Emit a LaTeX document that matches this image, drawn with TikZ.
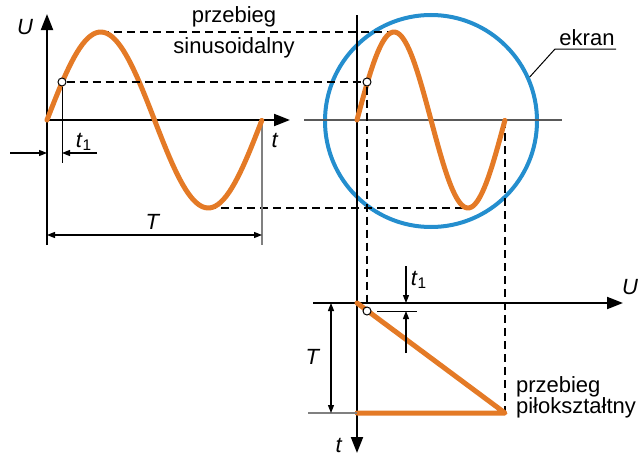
\documentclass[tikz,border=0pt]{standalone}
\usepackage{fontspec}
\setmainfont{Liberation Sans}
\usetikzlibrary{arrows.meta}
\definecolor{waveorange}{RGB}{228,122,38}
\definecolor{screenblue}{RGB}{36,142,206}
\tikzset{
  wave/.style={waveorange, line width=2.5pt, line cap=round, line join=round},
  axis/.style={line width=1pt, -{Triangle[length=8pt,width=6pt]}},
  dimline/.style={line width=0.6pt, {Triangle[length=4pt,width=3pt]}-{Triangle[length=4pt,width=3pt]}},
  tinyarrow/.style={line width=0.6pt, -{Triangle[length=4pt,width=3pt]}},
  guide/.style={line width=0.8pt, dash pattern=on 4pt off 2.5pt},
  thinline/.style={line width=0.5pt},
  graythin/.style={gray, line width=0.6pt},
  dot/.style={circle, draw, fill=white, line width=0.5pt, inner sep=0pt, minimum size=4pt},
  screen/.style={circle, draw=screenblue, line width=2pt, inner sep=0pt, minimum size=106pt}
}
\begin{document}
\begin{tikzpicture}[x=0.5pt,y=-0.5pt,font=\fontsize{11}{13}\selectfont]
\useasboundingbox (0,0) rectangle (638,455);
% named points
\coordinate (o1) at (47,120);
\coordinate (u1top) at (47,14);
\coordinate (u1bot) at (47,245);
\coordinate (t1tip) at (290,120);
\coordinate (peak1) at (100.75,32);
\coordinate (trough1) at (208.25,208);
\coordinate (end1) at (262,120);
\coordinate (peak2) at (394,32);
\coordinate (trough2) at (468,208);
\coordinate (end2) at (505,120);
\coordinate (o3) at (357,303);
\coordinate (saw) at (505,413);
\coordinate (sawbase) at (357,413);

% screen
\node[screen] (ekran) at (431,121) {};
\draw[gray!70!black, line width=0.8pt] (304,120) -- (562,120);
\draw[axis] (357,15) -- (357,453);

% dashed guides
\draw[guide] (peak1) -- (peak2);
\draw[guide] (trough1) -- (trough2);
\draw[guide] (end2) -- (saw);

% left axes
\draw[axis] (u1bot) -- (u1top);
\draw[axis] (o1) -- (t1tip);
\draw[graythin] (end1) -- (262,245);

% waves
\draw[wave] plot[domain=0:1,samples=80] ({47+215*\x},{120-88*sin(360*\x)});
\draw[wave] plot[domain=0:1,samples=80] ({357+148*\x},{120-88*sin(360*\x)});

% time axis below
\draw[axis] (313,303) -- (623,303);
\draw[wave] (o3) -- (saw) -- (sawbase);
\draw[graythin] (308,413) -- (sawbase);
\draw[dimline] (331,303) -- (331,413);

% t1 points
\node[dot] (c1) at (62,82) {};
\node[dot] (c2) at (367,82) {};
\node[dot] (c3) at (367,311) {};
\draw[guide] (c1.east) -- (c2.west);
\draw[guide] (c2.south) -- (c2 |- o3);
\draw[thinline] (c1.south) -- (c1 |- 0,163);
\draw[tinyarrow] (10,153) -- (47,153);
\draw[tinyarrow] (97,153) -- (c1 |- 0,153);
\draw[dimline] (47,235) -- (262,235);
\draw[thinline] (377,311) -- (417,311);
\draw[tinyarrow] (406,266) -- (406,303);
\draw[tinyarrow] (406,353) -- (406,311);

% leader to screen
\draw[thinline] (ekran.24) -- (555,49) -- (616,49);

% labels
\node (lu1) at (25,27) {\textit{U}};
\node (lt1) at (275,140) {\textit{t}};
\node (lt1a) at (84,142) {\textit{t}\textsubscript{1}};
\node (lT1) at (153,222) {\textit{T}};
\node (lsin1) at (234,17) {przebieg};
\node (lsin2) at (234,48) {sinusoidalny};
\node (lekran) at (587,38) {ekran};
\node (lu3) at (630,287) {\textit{U}};
\node (lt3a) at (419,280) {\textit{t}\textsubscript{1}};
\node (lT3) at (313,357) {\textit{T}};
\node (lt3) at (339,445) {\textit{t}};
\node[anchor=west] (lsaw1) at (509,387) {przebieg};
\node[anchor=west] (lsaw2) at (509,408) {piłokształtny};
\end{tikzpicture}
\end{document}
